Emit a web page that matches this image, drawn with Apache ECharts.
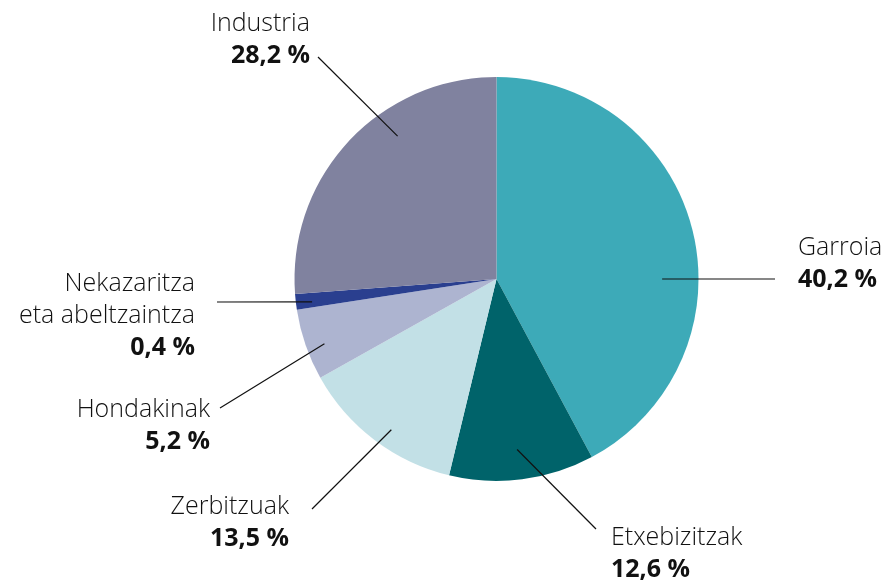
<!DOCTYPE html>
<html><head><meta charset="utf-8">
<script src="https://cdn.jsdelivr.net/npm/echarts@6/dist/echarts.min.js"></script>
<style>html,body{margin:0;padding:0;background:#fff}#c{width:888px;height:580px}</style>
</head><body><div id="c"></div>
<script>
// Categories (clockwise from 12 o'clock)
const categories = ['Garroia', 'Etxebizitzak', 'Zerbitzuak', 'Hondakinak', 'Nekazaritza\neta abeltzaintza', 'Industria'];
// Printed share labels
const shareLabels = ['40,2 %', '12,6 %', '13,5 %', '5,2 %', '0,4 %', '28,2 %'];
// Slice sizes as drawn in the picture (percent of the circle)
const sliceValues = [42.2, 11.6, 13.1, 5.7, 1.25, 26.2];
const sliceColors = ['#3DAAB8', '#00636A', '#C2E0E6', '#ADB4D0', '#2A3F8F', '#80829F'];

// Label placement (layout only): leader start as [angle clockwise from top (deg), fraction of radius],
// leader end [x,y], text anchor [x,y top], alignment
const labelSpots = [
  { start: [90, 0.82], end: [775, 279], text: [798, 232], align: 'left' },
  { start: [173.1, 0.85], end: [596, 529], text: [611, 522], align: 'left' },
  { start: [214.9, 0.91], end: [312, 509], text: [289, 491], align: 'right' },
  { start: [249.4, 0.91], end: [220, 408], text: [210, 394], align: 'right' },
  { start: [262.9, 0.92], end: [217, 302], text: [195, 268], align: 'right' },
  { start: [325.3, 0.86], end: [318, 57], text: [310, 8], align: 'right' }
];

const CX = 496.5, CY = 279, R = 202;
const chart = echarts.init(document.getElementById('c'), null, { renderer: 'canvas' });
const FONT = '"Open Sans", Lato, sans-serif';

const pieData = categories.map((c, i) => ({
  name: c, value: sliceValues[i], itemStyle: { color: sliceColors[i] }
}));

chart.setOption({
  animation: false,
  backgroundColor: '#ffffff',
  series: [{
    type: 'pie',
    z: 2,
    center: [CX, CY],
    radius: [0, R],
    startAngle: 90,
    clockwise: true,
    silent: true,
    itemStyle: { borderWidth: 0 },
    data: pieData,
    label: { show: false },
    labelLine: { show: false }
  }, {
    type: 'pie',
    z: 5,
    center: [CX, CY],
    radius: [0, R],
    startAngle: 90,
    clockwise: true,
    silent: true,
    avoidLabelOverlap: false,
    itemStyle: { color: 'rgba(0,0,0,0)', borderWidth: 0 },
    data: categories.map((c, i) => ({ name: c, value: sliceValues[i] })),
    label: {
      show: true,
      position: 'outer',
      formatter: p => {
        const i = p.dataIndex;
        return categories[i].split('\n').map(s => '{n|' + s + '}').join('\n') + '\n{v|' + shareLabels[i] + '}';
      },
      rich: {
        n: { fontFamily: FONT, fontSize: 25, fontWeight: 300, lineHeight: 32, color: '#111111' },
        v: { fontFamily: FONT, fontSize: 25, fontWeight: 'bold', lineHeight: 32, color: '#111111' }
      }
    },
    labelLine: { show: true, lineStyle: { color: '#111111', width: 1.2 } },
    labelLayout: params => {
      const s = labelSpots[params.dataIndex];
      const a = s.start[0] * Math.PI / 180;
      const r = s.start[1] * R;
      const sx = CX + r * Math.sin(a), sy = CY - r * Math.cos(a);
      return {
        x: s.text[0], y: s.text[1],
        align: s.align, verticalAlign: 'top',
        labelLinePoints: [[sx, sy], [s.end[0], s.end[1]], [s.end[0], s.end[1]]]
      };
    }
  }]
});
</script>
</body></html>
